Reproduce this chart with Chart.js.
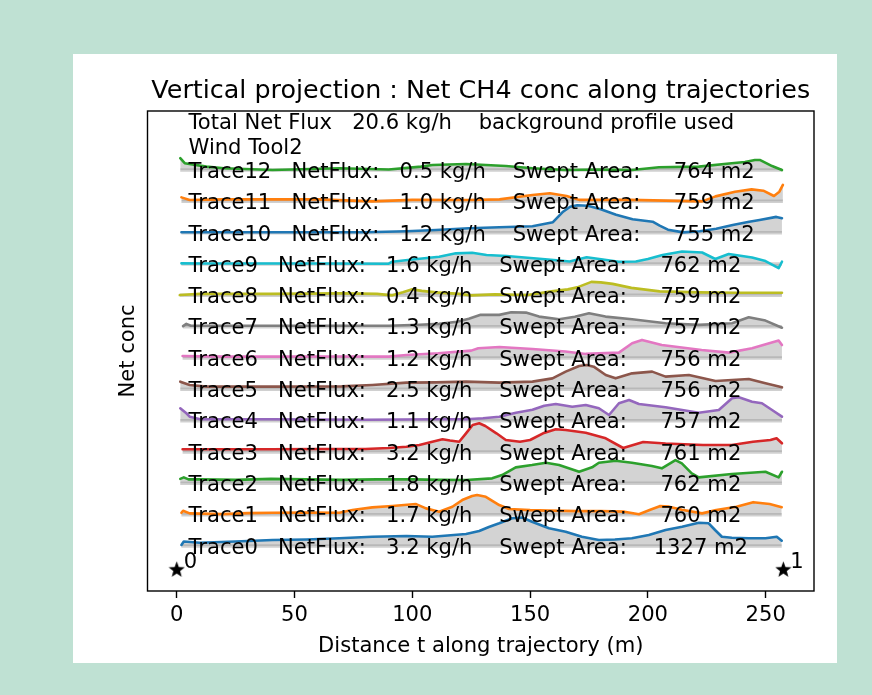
<!DOCTYPE html>
<html><head><meta charset="utf-8">
<script src="https://cdn.jsdelivr.net/npm/chart.js@4.4.1/dist/chart.umd.min.js"></script>
<style>html,body{margin:0;padding:0;background:#bfe1d3;}canvas{display:block;}</style>
</head><body>
<canvas id="c" width="872" height="695"></canvas>
<script>
// ---------------- data ----------------
const TITLE = 'Vertical projection : Net CH4 conc along trajectories';
const X_TITLE = 'Distance t along trajectory (m)';
const Y_TITLE = 'Net conc';
const HEADER_LINES = ['Total Net Flux   20.6 kg/h    background profile used', 'Wind Tool2'];
const X_TICKS = [0, 50, 100, 150, 200, 250];
const TRACE_NAMES = ['Trace0','Trace1','Trace2','Trace3','Trace4','Trace5','Trace6','Trace7','Trace8','Trace9','Trace10','Trace11','Trace12'];
const NET_FLUX = [3.2, 1.7, 1.8, 3.2, 1.1, 2.5, 1.2, 1.3, 0.4, 1.6, 1.2, 1.0, 0.5];
const SWEPT_AREA = [1327, 760, 762, 761, 757, 756, 756, 757, 759, 762, 755, 759, 764];
const COLORS = ['#1f77b4','#ff7f0e','#2ca02c','#d62728','#9467bd','#8c564b','#e377c2','#7f7f7f','#bcbd22','#17becf'];
const OFFSET = 31.33;           // vertical offset between traces (conc units)

// each trace: [distance, net conc]
const TRACE0 = [[2,1],[3,4.5],[9.7,3.3],[25,4.5],[40.7,6],[55,6.5],[69,7.7],[83,9.3],[97.5,10],[108.5,9.3],[122.8,12],[128.4,15],[132.5,19],[136.9,22.7],[142.4,27.7],[146.6,28.5],[150.8,24.3],[158,17.7],[165.1,14.3],[172,9.3],[179.2,6],[186,6.5],[193.2,7.7],[200.4,11],[207.5,16],[214.5,19.3],[221.6,23.3],[225.8,22.7],[228.5,16],[231.4,9.3],[235.6,8.3],[242.8,7.7],[249.9,7.7],[254.7,9.3],[256.8,5.3]];
const TRACE1 = [[2,1.9],[2.7,3.9],[5.5,1.3],[19.5,0.5],[30,1.5],[40.7,1.9],[55,2],[69,1.9],[74.6,4.6],[83,7.3],[91.5,8.6],[101.6,10.6],[105.8,6.3],[111.4,2.9],[117,7.9],[121.2,14.6],[125.4,18.6],[127.5,19.6],[131.2,17.9],[136.9,9.6],[141.1,5.6],[150,4.5],[158,4],[170,3.5],[180,3.5],[190,3],[196.2,0.5],[201,5],[205,8.5],[209,8],[214.4,5],[223,1.3],[229,4.6],[237.6,7.9],[244.7,12.5],[251.7,10.6],[256.8,7.5]];
const TRACE2 = [[1.5,4.5],[3,6],[5,4],[10,4],[25,3.5],[40,4.5],[55,4],[70,3.5],[85,4],[100,4],[112,3.5],[122.8,3.3],[133.9,5],[138.1,8.3],[143.9,16],[150.8,18.3],[156.7,20.6],[162.3,18.3],[170.8,11.6],[176.3,16],[179.2,20.6],[186.3,22.6],[193.2,20.6],[201.7,17.3],[205.9,15],[211.7,23.3],[214.4,20],[218.6,10],[221.6,6],[235.6,9.3],[249.9,11.6],[255.5,6],[256.9,11.6]];
const TRACE3 = [[2.5,2.7],[20,2.7],[40,2.7],[60,3],[80,3],[90,4],[97.5,5.3],[103,7],[108.5,10.3],[112.8,12.7],[116,11.5],[119.9,10.3],[122.8,18.7],[125.6,27],[128.4,28.7],[131,26],[135.7,18.7],[139.7,12],[145.7,10.3],[150,12],[155.5,18.7],[160.9,22.7],[165.1,22],[173.6,19.3],[182.1,13.7],[189.5,4],[198,10],[207.5,8.5],[223.4,7],[235.6,7],[244.6,10.3],[252,12],[254.6,13.7],[256.9,8.7]];
const TRACE4 = [[1.5,12.4],[4.1,7.4],[5.5,4],[10,1.4],[40,1.4],[80,1],[110,1.4],[122.8,1.4],[130,2.5],[136.9,4],[144,8],[151,11],[156,15],[160.9,16.7],[167.9,14],[173.6,15.7],[179.2,12.4],[183.5,5.7],[187.7,17.4],[192,20.7],[196.2,16.7],[207.5,13.4],[221.6,8],[230.1,10.7],[235.7,22.4],[238.6,23.4],[244.2,19],[248.4,17.4],[252.7,10.7],[256.9,4]];
const TRACE5 = [[1.5,7.7],[5.5,4.4],[12.6,2.7],[40,2.7],[70,3],[83,4.4],[97.5,6.7],[110,7],[122.8,7.7],[136.9,6.7],[151,7.7],[159.5,11],[165.1,17.7],[170.8,23.4],[174,24.4],[177,22.7],[182.1,14.4],[186.3,11],[193.3,16],[201.8,17.7],[207.5,12.7],[217.4,14.4],[228.7,8.4],[242.8,10.4],[249.9,6],[256.9,2]];
const TRACE6 = [[2.5,2],[20,1.4],[40,1.4],[65,1.5],[90,1.4],[97.5,3],[111,4.7],[125,7.4],[128,9.8],[137,11],[151,9],[165,6.5],[173.6,4.1],[187.7,5.4],[193.3,14.8],[197.5,18.1],[205.9,13.1],[222.8,8.1],[234.4,5.4],[244.2,9.8],[255.5,17.4],[256.9,13]];
const TRACE7 = [[2.7,0.5],[4.1,2.8],[6,1],[40,1],[90,1],[103,2],[111.4,2.8],[119,5],[124,8],[129,12],[136.9,11.8],[142,14.5],[148.2,14.1],[153.8,10.1],[162.3,7.5],[169,10],[175,13.5],[182,10.1],[193.3,7.5],[207.5,3.5],[221.6,1.8],[235.7,3.5],[242.8,9.5],[249.9,6.1],[256.9,-1]];
const TRACE8 = [[1.3,0.3],[10,1.5],[40,1.5],[70,2],[85,1.5],[91.5,0],[96,3],[100,6],[104,4.5],[110,3],[120,1.5],[125,0],[135,1],[149,0.3],[159,4],[166,6],[170,8],[176,13.5],[180,13],[185,11.5],[193,7.5],[205,4],[222,3],[237,2.6],[256.9,2.6]];
const TRACE9 = [[2,0.7],[10,0.5],[60,0.5],[90,0.3],[91.5,2.3],[100,4.5],[111.4,7.3],[118.5,10.7],[125.4,11.3],[131.5,9],[140,8],[152.7,5.5],[160,4],[166.8,2.5],[174,6.7],[180.9,4.5],[187.6,2.3],[194.9,2.5],[200,5],[206.2,9],[214.5,12.5],[223,11.5],[228.6,5],[234.3,10],[244.2,6.5],[249.9,3],[255.5,-4],[256.9,2.3]];
const TRACE10 = [[2,0.5],[10,0.5],[40,0.5],[80,0.5],[97.5,1.5],[110,2.7],[124,4.4],[137,5.4],[151,6.5],[159.7,10.5],[164,21],[167,26],[170,27.5],[174.5,27],[180,23.5],[186.5,18],[193.5,13.5],[202,11],[205,7],[208.5,3],[215,0.3],[222,1.5],[229,4],[236,7.7],[243,11],[247.4,12.7],[254.5,15.8],[256.9,14.5]];
const TRACE11 = [[2,4],[5.5,1.4],[20,2],[60,2],[83,0],[100,1.5],[124,1.4],[137,2],[151,6.4],[158.4,8.1],[165.5,5.4],[170.8,1.5],[192,1.5],[223,0],[228.7,5],[237,9.7],[244,12],[249,10.7],[253.5,5.4],[255.8,9.7],[257.3,16.5]];
const TRACE12 = [[1.5,11.8],[3.4,6.8],[12.6,3.4],[20,1.8],[40.7,0.1],[69,1.8],[90,0.5],[103.7,3.4],[108.5,5],[122.8,6],[139.7,4],[151,1.8],[165,0.1],[179,0.5],[193.3,0],[204.7,2.8],[221.6,3.4],[235.6,6.8],[241.2,8],[245.4,10],[247.7,10],[252.7,4],[256.9,0]];
const TRACES = [TRACE0,TRACE1,TRACE2,TRACE3,TRACE4,TRACE5,TRACE6,TRACE7,TRACE8,TRACE9,TRACE10,TRACE11,TRACE12];

const STAR_X = [0, 257.5];
const STAR_Y = -23.3;
const STAR_LABELS = ['0', '1'];

// ---------------- rendering ----------------
const FONT = 'DejaVu Sans';
const FS = 21.1;

function makeStar(size) {
  const c = document.createElement('canvas');
  c.width = size; c.height = size;
  const g = c.getContext('2d');
  const R = size / 2, r = R * 0.42;
  g.beginPath();
  for (let k = 0; k < 10; k++) {
    const rad = k % 2 === 0 ? R : r;
    const a = -Math.PI / 2 + k * Math.PI / 5;
    const px = R + rad * Math.cos(a), py = R + 0.6 + rad * Math.sin(a);
    if (k === 0) g.moveTo(px, py); else g.lineTo(px, py);
  }
  g.closePath();
  g.fillStyle = '#000';
  g.fill();
  return c;
}
const STAR_IMG = makeStar(17);

const datasets = [];
TRACES.forEach((tr, i) => {
  const base = i * OFFSET;
  datasets.push({
    data: [{x: tr[0][0], y: base}, {x: tr[tr.length - 1][0], y: base}],
    borderColor: 'rgba(150,150,150,0.45)', borderWidth: 3.5, pointRadius: 0, fill: false, order: 3
  });
  datasets.push({
    data: tr.map(p => ({x: p[0], y: base + p[1]})),
    borderColor: COLORS[i % COLORS.length], borderWidth: 2.6, pointRadius: 0,
    fill: {value: base}, backgroundColor: '#d3d3d3', tension: 0, order: 2,
    borderJoinStyle: 'round', borderCapStyle: 'round'
  });
});
datasets.push({
  data: STAR_X.map(x => ({x, y: STAR_Y})),
  showLine: false, pointStyle: STAR_IMG, pointRadius: 8, order: 1
});

const decor = {
  id: 'decor',
  beforeDraw(chart) {
    const ctx = chart.ctx;
    ctx.save();
    ctx.fillStyle = '#bfe1d3';
    ctx.fillRect(0, 0, chart.width, chart.height);
    ctx.fillStyle = '#ffffff';
    ctx.fillRect(73, 54, 764, 609);
    ctx.restore();
  },
  afterDatasetsDraw(chart) {
    const ctx = chart.ctx, xs = chart.scales.x, ys = chart.scales.y, a = chart.chartArea;
    ctx.save();
    ctx.fillStyle = '#000';
    ctx.textAlign = 'left';
    ctx.textBaseline = 'alphabetic';
    ctx.font = FS + 'px "' + FONT + '"';
    // header
    ctx.fillText(HEADER_LINES[0], xs.getPixelForValue(5), ys.getPixelForValue(416.7));
    ctx.fillText(HEADER_LINES[1], xs.getPixelForValue(5), ys.getPixelForValue(392));
    // trace labels
    TRACE_NAMES.forEach((nm, i) => {
      const txt = nm + '   NetFlux:   ' + NET_FLUX[i].toFixed(1) + ' kg/h    Swept Area:   ' + String(SWEPT_AREA[i]).padStart(5, ' ') + ' m2';
      ctx.fillText(txt, xs.getPixelForValue(5), ys.getPixelForValue(i * OFFSET - 7.8));
    });
    // star labels
    STAR_LABELS.forEach((s, k) => {
      ctx.fillText(s, xs.getPixelForValue(STAR_X[k]) + 7, ys.getPixelForValue(STAR_Y) - 1);
    });
    // frame
    ctx.strokeStyle = '#000';
    ctx.lineWidth = 1.4;
    ctx.strokeRect(a.left, a.top, a.right - a.left, a.bottom - a.top);
    // title
    ctx.textAlign = 'center';
    ctx.font = '25.4px "' + FONT + '"';
    ctx.fillText(TITLE, (a.left + a.right) / 2, 98);
    ctx.font = FS + 'px "' + FONT + '"';
    ctx.fillText(X_TITLE, (a.left + a.right) / 2, 651.5);
    ctx.translate(134, (a.top + a.bottom) / 2);
    ctx.rotate(-Math.PI / 2);
    ctx.fillText(Y_TITLE, 0, 0);
    ctx.restore();
  }
};

new Chart(document.getElementById('c'), {
  type: 'line',
  data: {datasets},
  options: {
    responsive: false,
    animation: false,
    events: [],
    layout: {padding: {left: 147.5, top: 111, right: 58, bottom: 0}},
    plugins: {legend: {display: false}, tooltip: {enabled: false}, filler: {drawTime: 'beforeDatasetsDraw'}},
    scales: {
      x: {
        type: 'linear', min: -12.4, max: 270.5,
        afterFit: s => { s.height = 104; },
        afterBuildTicks: s => { s.ticks = X_TICKS.map(v => ({value: v})); },
        grid: {display: true, drawOnChartArea: false, drawTicks: true, tickLength: 7, tickWidth: 1.4, tickColor: '#000'},
        border: {display: false},
        ticks: {color: '#000', font: {family: FONT, size: FS}, padding: 5, maxRotation: 0, autoSkip: false}
      },
      y: {type: 'linear', display: false, min: -45, max: 435}
    }
  },
  plugins: [decor]
});
</script>
</body></html>
